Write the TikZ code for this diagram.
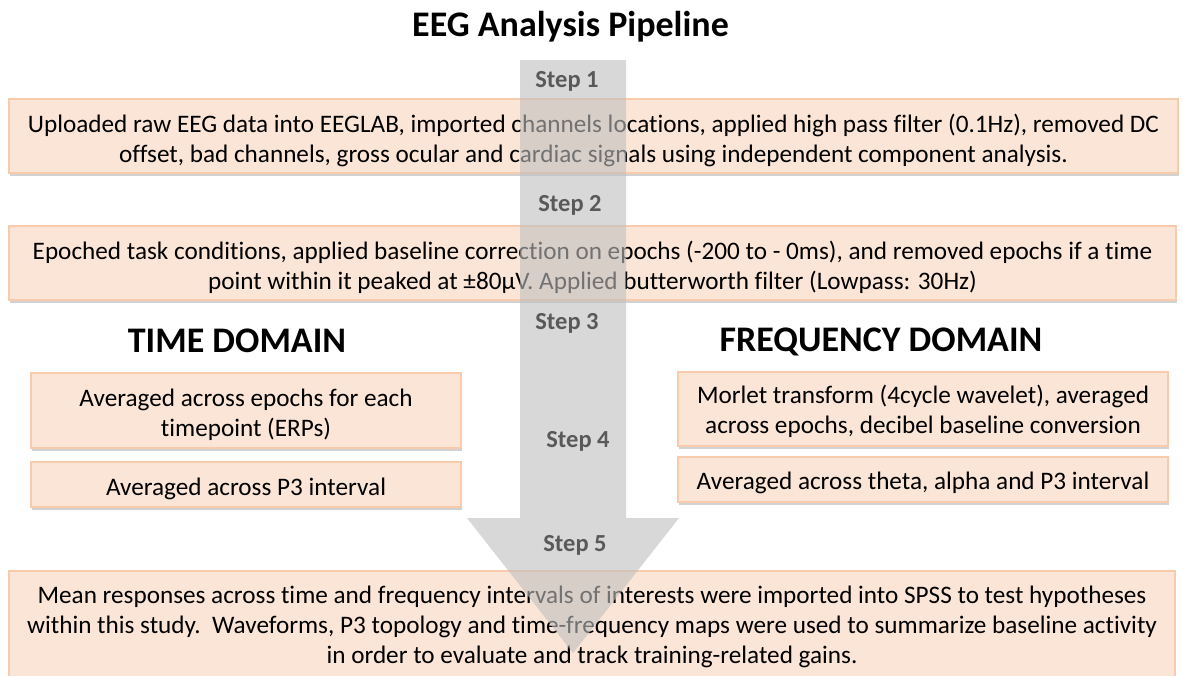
\documentclass[tikz,border=0pt]{standalone}
\usepackage{fontspec}
\setmainfont{Carlito}[Ligatures={NoCommon}]
\usetikzlibrary{shadows}
\definecolor{boxfill}{HTML}{FBE5D6}
\definecolor{boxline}{HTML}{F8CBAD}
\definecolor{arrowgray}{HTML}{BFBFBF}
\definecolor{steptext}{HTML}{595959}
\begin{document}
\begin{tikzpicture}[x=1pt,y=-1pt,
  box/.style={draw=boxline, line width=1.3pt, fill=boxfill, inner sep=0pt,
    drop shadow={shadow xshift=1pt, shadow yshift=-3pt, opacity=0.22, fill=black!80}},
  boxtext/.style={font=\fontsize{25.2}{30}\selectfont, align=center, text=black, inner sep=0pt},
  steplabel/.style={font=\fontsize{24.5}{26}\selectfont\bfseries, text=steptext, inner sep=0pt},
  heading/.style={font=\fontsize{36}{40}\selectfont\bfseries, inner sep=0pt}]
\path[use as bounding box] (0,0) rectangle (1183,675);
\fill[white] (0,0) rectangle (1183,675);

\node[heading] (title) at (570.5,27) {EEG Analysis Pipeline};

\node[box, minimum width=1169pt, minimum height=74pt] (b1) at (593.5,136) {};
\node[boxtext] (b1t) at ([yshift=-4pt]b1.center)
  {Uploaded raw EEG data into EEGLAB, imported channels locations, applied high pass filter (0.1Hz), removed DC\\
   offset, bad channels, gross ocular and cardiac signals using independent component analysis.};
\node[box, minimum width=1167pt, minimum height=74pt] (b2) at (592.5,263) {};
\node[boxtext] (b2t) at ([yshift=-4pt]b2.center)
  {Epoched task conditions, applied baseline correction on epochs (-200 to - 0ms), and removed epochs if a time\\
   point within it peaked at ±80µV. Applied butterworth filter (Lowpass: 30Hz)};

\node[heading] (time) at (237,341) {TIME DOMAIN};
\node[heading] (freq) at (881,342) {FREQUENCY DOMAIN};

\node[box, minimum width=430pt, minimum height=75pt] (ta) at (246,410.5) {};
\node[boxtext] (tat) at ([yshift=-4pt]ta.center) {Averaged across epochs for each\\ timepoint (ERPs)};
\node[box, minimum width=430pt, minimum height=45pt] (tb) at (246,484.5) {};
\node[boxtext] (tbt) at ([yshift=-4pt]tb.center) {Averaged across P3 interval};
\node[box, minimum width=490pt, minimum height=74pt] (fa) at (923,409) {};
\node[boxtext] (fat) at ([yshift=-2.5pt]fa.center) {Morlet transform (4cycle wavelet), averaged\\ across epochs, decibel baseline conversion};
\node[box, minimum width=490pt, minimum height=45pt] (fb) at (923,479.5) {};
\node[boxtext] (fbt) at ([yshift=-3pt]fb.center) {Averaged across theta, alpha and P3 interval};

\node[box, minimum width=1166pt, minimum height=108pt] (b5) at (592,625) {};
\node[boxtext] (b5t) at ([yshift=-2pt]b5.center)
  {Mean responses across time and frequency intervals of interests were imported into SPSS to test hypotheses\\
   within this study.\ \ Waveforms, P3 topology and time-frequency maps were used to summarize baseline activity\\
   in order to evaluate and track training-related gains.};

\fill[arrowgray, opacity=0.6] (520,60) -- (626,60) -- (626,518) -- (679,518) -- (573,653)
  -- (467,518) -- (520,518) -- cycle;

\node[steplabel] (s1) at (567,81) {Step 1};
\node[steplabel] (s2) at (570,205) {Step 2};
\node[steplabel] (s3) at (567,323) {Step 3};
\node[steplabel] (s4) at (578,441) {Step 4};
\node[steplabel] (s5) at (575,545) {Step 5};
\end{tikzpicture}
\end{document}
